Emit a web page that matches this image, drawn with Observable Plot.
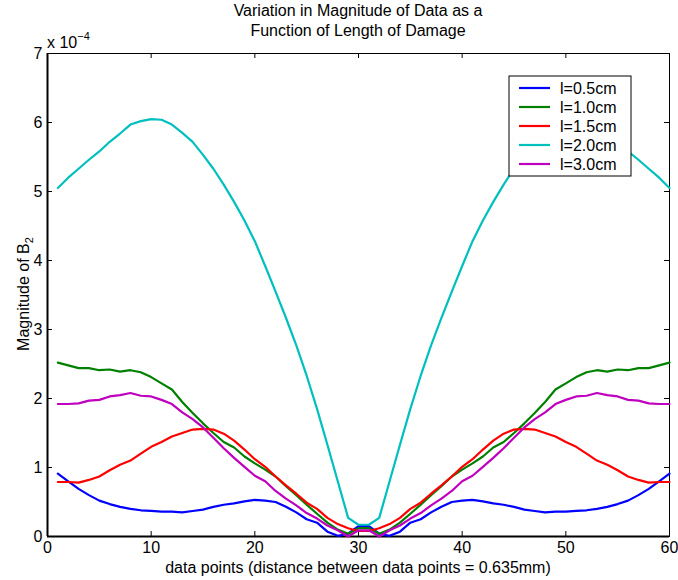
<!DOCTYPE html>
<html><head><meta charset="utf-8">
<script src="https://cdn.jsdelivr.net/npm/d3@7"></script>
<script src="https://cdn.jsdelivr.net/npm/@observablehq/plot@0.6"></script>
<style>
body{margin:0;background:#fff}
svg{font-family:"Liberation Sans",Arial,Helvetica,sans-serif}
</style>
</head><body><div id="chart"></div>
<script>
const titleLines = ["Variation in Magnitude of Data as a", "Function of Length of Damage"];
const xLabel = "data points (distance between data points = 0.635mm)";
const yLabelMain = "Magnitude of B";
const yLabelSub = "2";
const exponentBase = "x 10";
const exponentPower = "\u22124";

const seriesNames = ["l=0.5cm", "l=1.0cm", "l=1.5cm", "l=2.0cm", "l=3.0cm"];
const seriesColors = ["#0000ff", "#008000", "#ff0000", "#00bfbf", "#bf00bf"];
const xTicks = [0, 10, 20, 30, 40, 50, 60];
const yTicks = [0, 1, 2, 3, 4, 5, 6, 7];
const dataPoints = d3.range(1, 61);

// values in units of 1e-4
const l05 = [0.91,0.80,0.69,0.60,0.52,0.47,0.43,0.40,0.38,0.37,0.36,0.36,0.35,0.37,0.39,0.43,0.46,0.48,0.51,0.53,0.52,0.50,0.43,0.35,0.25,0.20,0.07,0.01,0.04,0.15,
             0.15,0.04,0.01,0.07,0.20,0.25,0.35,0.43,0.50,0.52,0.53,0.51,0.48,0.46,0.43,0.39,0.37,0.35,0.36,0.36,0.37,0.38,0.40,0.43,0.47,0.52,0.60,0.69,0.80,0.91];
const l10 = [2.52,2.48,2.44,2.44,2.41,2.42,2.39,2.41,2.38,2.31,2.22,2.13,1.95,1.79,1.64,1.50,1.37,1.29,1.16,1.06,0.97,0.87,0.73,0.60,0.46,0.33,0.20,0.10,0.04,0.12,
             0.12,0.04,0.10,0.20,0.33,0.46,0.60,0.73,0.87,0.97,1.06,1.16,1.29,1.37,1.50,1.64,1.79,1.95,2.13,2.22,2.31,2.38,2.41,2.39,2.42,2.41,2.44,2.44,2.48,2.52];
const l15 = [0.79,0.79,0.78,0.82,0.87,0.96,1.04,1.10,1.20,1.30,1.37,1.45,1.50,1.55,1.56,1.55,1.49,1.39,1.26,1.12,1.01,0.87,0.74,0.62,0.49,0.40,0.27,0.18,0.12,0.08,
             0.08,0.12,0.18,0.27,0.40,0.49,0.62,0.74,0.87,1.01,1.12,1.26,1.39,1.49,1.55,1.56,1.55,1.50,1.45,1.37,1.30,1.20,1.10,1.04,0.96,0.87,0.82,0.78,0.79,0.79];
const l20 = [5.05,5.20,5.33,5.46,5.58,5.72,5.84,5.97,6.02,6.05,6.04,5.97,5.85,5.72,5.53,5.33,5.10,4.85,4.58,4.28,3.92,3.55,3.17,2.77,2.33,1.85,1.33,0.80,0.27,0.17,
             0.17,0.27,0.80,1.33,1.85,2.33,2.77,3.17,3.55,3.92,4.28,4.58,4.85,5.10,5.33,5.53,5.72,5.85,5.97,6.04,6.05,6.02,5.97,5.84,5.72,5.58,5.46,5.33,5.20,5.05];
const l30 = [1.92,1.92,1.93,1.97,1.98,2.03,2.05,2.08,2.04,2.03,1.98,1.92,1.80,1.70,1.58,1.43,1.28,1.14,1.01,0.88,0.80,0.66,0.55,0.45,0.34,0.26,0.16,0.09,0.00,0.09,
             0.09,0.00,0.09,0.16,0.26,0.34,0.45,0.55,0.66,0.80,0.88,1.01,1.14,1.28,1.43,1.58,1.70,1.80,1.92,1.98,2.03,2.04,2.08,2.05,2.03,1.98,1.97,1.93,1.92,1.92];

const seriesValues = [l05, l10, l15, l20, l30];
const rows = [];
seriesValues.forEach((vals, s) => vals.forEach((v, i) => rows.push({x: dataPoints[i], y: v, series: seriesNames[s]})));

const FONT = 16;
const W = 678, H = 580, MT = 53, MB = 44, ML = 47, MR = 9, TICK = 5;
const innerW = W - ML - MR, innerH = H - MT - MB;
const svg = Plot.plot({
  width: W, height: H,
  marginTop: MT, marginBottom: MB, marginLeft: ML, marginRight: MR,
  style: {fontFamily: '"Liberation Sans", Arial, sans-serif', fontSize: FONT + "px", color: "black", background: "white", overflow: "visible"},
  x: {domain: [0, 60], label: null},
  y: {domain: [0, 7], label: null},
  color: {domain: seriesNames, range: seriesColors},
  marks: [
    Plot.frame({stroke: "black", strokeWidth: 1}),
    Plot.axisX(xTicks, {anchor: "bottom", tickSize: 0, tickPadding: 5, label: null, fontSize: FONT, tickFormat: d => String(d)}),
    Plot.axisY(yTicks, {anchor: "left", tickSize: 0, tickPadding: 5, label: null, fontSize: FONT, tickFormat: d => String(d)}),
    Plot.tickX(xTicks, {x: d => d, stroke: "black", insetTop: innerH - TICK}),
    Plot.tickX(xTicks, {x: d => d, stroke: "black", insetBottom: innerH - TICK}),
    Plot.tickY(yTicks, {y: d => d, stroke: "black", insetRight: innerW - TICK}),
    Plot.tickY(yTicks, {y: d => d, stroke: "black", insetLeft: innerW - TICK}),
    Plot.ruleX([0], {stroke: "black", strokeWidth: 2}),
    Plot.ruleY([0], {stroke: "black", strokeWidth: 2}),
    Plot.line(rows, {x: "x", y: "y", z: "series", stroke: "series", strokeWidth: 2.2, strokeLinejoin: "round"})
  ]
});
document.getElementById("chart").appendChild(svg);

const s = d3.select(svg);
const g = s.append("g").attr("fill", "black").attr("font-size", FONT);
// title
titleLines.forEach((t, i) => g.append("text").attr("x", 358).attr("y", 16 + 20 * i).attr("text-anchor", "middle").text(t));
// exponent
const ex = g.append("text").attr("x", 47).attr("y", 48).attr("text-anchor", "start");
ex.append("tspan").text(exponentBase);
ex.append("tspan").attr("dy", -8).attr("font-size", 11).text(exponentPower);
// x label
g.append("text").attr("x", 358).attr("y", 573).attr("text-anchor", "middle").text(xLabel);
// y label
const yl = g.append("text").attr("transform", "translate(29,294) rotate(-90)").attr("text-anchor", "middle");
yl.append("tspan").text(yLabelMain);
yl.append("tspan").attr("dy", 4).attr("font-size", 11).text(yLabelSub);
// legend
const lg = s.append("g");
lg.append("rect").attr("x", 509).attr("y", 76).attr("width", 122).attr("height", 100).attr("fill", "white").attr("stroke", "black").attr("stroke-width", 1);
seriesNames.forEach((n, i) => {
  const y = 88 + 19 * i;
  lg.append("line").attr("x1", 519).attr("x2", 550).attr("y1", y).attr("y2", y).attr("stroke", seriesColors[i]).attr("stroke-width", 2.2);
  lg.append("text").attr("x", 560).attr("y", y).attr("dy", "0.36em").attr("text-anchor", "start").attr("font-size", FONT).attr("fill", "black").text(n);
});
</script>
</body></html>
